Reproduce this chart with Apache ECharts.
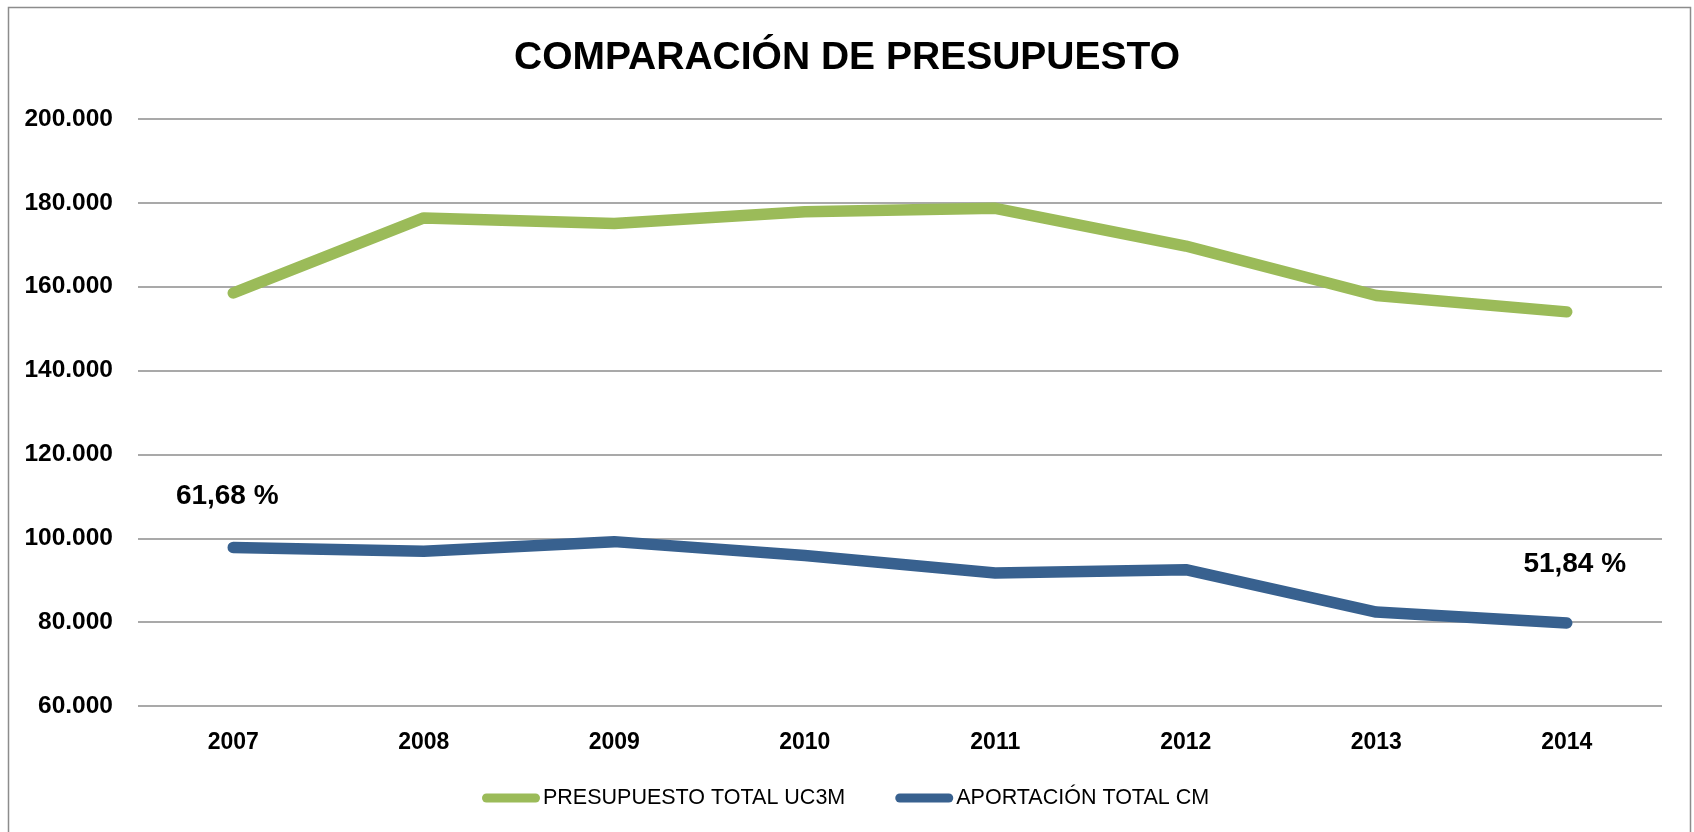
<!DOCTYPE html>
<html>
<head>
<meta charset="utf-8">
<script src="https://cdn.jsdelivr.net/npm/echarts@6/dist/echarts.min.js"></script>
<style>
  html, body { margin: 0; padding: 0; background: #ffffff; }
  #chart { width: 1694px; height: 832px; }
</style>
</head>
<body>
<div id="chart"></div>
<script>
// ---- data ----
const years = ['2007', '2008', '2009', '2010', '2011', '2012', '2013', '2014'];
const presupuestoUC3M = [158500, 176400, 175100, 177900, 178700, 169700, 157900, 154000];
const aportacionCM   = [97800, 96900, 99200, 95900, 91700, 92500, 82400, 79800];
const pctLabels      = ['61,68 %', null, null, null, null, null, null, '51,84 %'];
const seriesNames    = ['PRESUPUESTO TOTAL UC3M', 'APORTACIÓN TOTAL CM'];
const yTicks = { min: 60000, max: 200000, interval: 20000 };

const FONT = "'Liberation Sans', Arial, sans-serif";
const GREEN = '#9BBB59';
const BLUE = '#38618F';

const pctOffsets = { 0: [-6, -51], 7: [8, -59] };

function fmtThousands(v) {
  return String(v).replace(/\B(?=(\d{3})+(?!\d))/g, '.');
}

const chart = echarts.init(document.getElementById('chart'), null, { renderer: 'canvas' });

const capsule = 'path://M4.5,0 H53.5 A4.5,4.5 0 0 1 53.5,9 H4.5 A4.5,4.5 0 0 1 4.5,0 Z';

chart.setOption({
  backgroundColor: '#ffffff',
  animation: false,
  graphic: [{
    type: 'rect',
    shape: { x: 8.5, y: 7.5, width: 1682, height: 900 },
    style: { fill: 'none', stroke: '#8c8c8c', lineWidth: 1.5 },
    silent: true
  }],
  title: {
    text: 'COMPARACIÓN DE PRESUPUESTO',
    left: 'center',
    top: 34,
    textStyle: { fontFamily: FONT, fontWeight: 'bold', fontSize: 39, color: '#000000' }
  },
  legend: {
    data: seriesNames.map((n, i) => ({ name: n, icon: capsule, itemStyle: { color: i === 0 ? GREEN : BLUE } })),
    left: 477,
    top: 782,
    itemWidth: 58,
    itemHeight: 9,
    itemGap: 50,
    textStyle: { fontFamily: FONT, fontSize: 21.5, color: '#000000', padding: [0, 0, 0, -2] }
  },
  grid: { left: 138, right: 32, top: 119, bottom: 126, containLabel: false },
  xAxis: {
    type: 'category',
    data: years,
    boundaryGap: true,
    axisLine: { show: false },
    axisTick: { show: false },
    axisLabel: { fontFamily: FONT, fontWeight: 'bold', fontSize: 23, color: '#000000', margin: 25 }
  },
  yAxis: {
    type: 'value',
    min: yTicks.min,
    max: yTicks.max,
    interval: yTicks.interval,
    axisLine: { show: false },
    axisTick: { show: false },
    splitLine: { lineStyle: { color: '#8c8c8c', width: 1.5 } },
    axisLabel: {
      fontFamily: FONT, fontWeight: 'bold', fontSize: 24.5, color: '#000000', margin: 25,
      formatter: v => fmtThousands(v)
    }
  },
  series: [
    {
      name: seriesNames[0],
      type: 'line',
      data: presupuestoUC3M,
      symbol: 'none',
      lineStyle: { color: GREEN, width: 11.5, cap: 'round', join: 'round' },
      itemStyle: { color: GREEN },
      z: 3
    },
    {
      name: seriesNames[1],
      type: 'line',
      data: aportacionCM.map((v, i) => pctLabels[i] ? {
        value: v,
        label: {
          show: true,
          position: 'inside',
          offset: pctOffsets[i],
          formatter: pctLabels[i],
          fontFamily: FONT, fontWeight: 'bold', fontSize: 28, color: '#000000'
        }
      } : v),
      symbol: 'circle',
      symbolSize: 1,
      showSymbol: true,
      lineStyle: { color: BLUE, width: 11.5, cap: 'round', join: 'round' },
      itemStyle: { color: BLUE },
      z: 3
    }
  ]
});
</script>
</body>
</html>
